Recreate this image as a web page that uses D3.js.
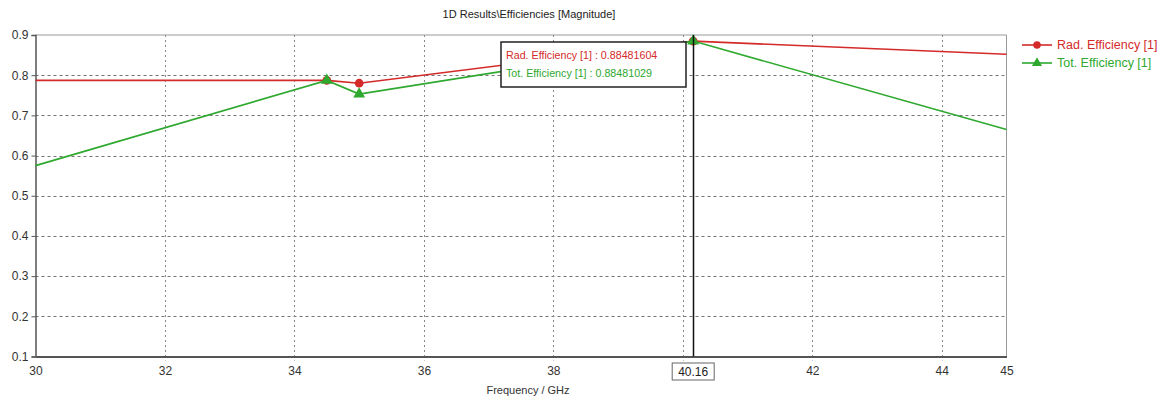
<!DOCTYPE html>
<html>
<head>
<meta charset="utf-8">
<script src="https://cdn.jsdelivr.net/npm/d3@7"></script>
<style>
  body { margin: 0; background: #fff; }
  svg text { font-family: Tahoma, "Liberation Sans", Arial, sans-serif; }
</style>
</head>
<body>
<div class="result"></div>
<script>
// Data
const freqs = [30, 34.5, 35, 40.16, 45];
const radEff = [0.787, 0.787, 0.780, 0.88481604, 0.852];
const totEff = [0.575, 0.787, 0.753, 0.88481029, 0.665];
const markerIdx = [1, 2, 3];            // points that carry a symbol
const xTicks = [30, 32, 34, 36, 38, 40, 42, 44, 45];
const yTicks = [0.1, 0.2, 0.3, 0.4, 0.5, 0.6, 0.7, 0.8, 0.9];
const cursorFreq = 40.16;
const seriesNames = ['Rad. Efficiency [1]', 'Tot. Efficiency [1]'];
const cursorValues = ['0.88481604', '0.88481029'];

// Size
const w = 1173;
const h = 400;
const plotLeft = 35.5, plotRight = 1006.5, plotTop = 35, plotBottom = 356.5;

const red = '#d42a2a';
const green = '#2ea82e';
const font = 'Tahoma, "Liberation Sans", Arial, sans-serif';

const svg = d3.select('.result')
  .append('svg')
  .attr('width', w)
  .attr('height', h);

// Scales
const xScale = d3.scaleLinear().domain([30, 45]).range([plotLeft, plotRight]);
const yScale = d3.scaleLinear().domain([0.1, 0.9]).range([plotBottom, plotTop]);

// Title
svg.append('text')
  .attr('x', 529)
  .attr('y', 18)
  .attr('text-anchor', 'middle')
  .attr('font-size', 11)
  .attr('fill', '#222')
  .text('1D Results\\Efficiencies [Magnitude]');

// Grid
svg.append('g')
  .selectAll('line')
  .data(yTicks.slice(1, -1))
  .enter()
  .append('line')
  .attr('x1', plotLeft).attr('x2', plotRight)
  .attr('y1', d => Math.round(yScale(d)) + 0.5)
  .attr('y2', d => Math.round(yScale(d)) + 0.5)
  .attr('stroke', '#777')
  .attr('stroke-dasharray', '3,3');

svg.append('g')
  .selectAll('line')
  .data(xTicks.slice(1, -1))
  .enter()
  .append('line')
  .attr('y1', plotTop).attr('y2', plotBottom + 4)
  .attr('x1', d => Math.round(xScale(d)) + 0.5)
  .attr('x2', d => Math.round(xScale(d)) + 0.5)
  .attr('stroke', '#888')
  .attr('stroke-dasharray', '2,3');

// Frame (top/right light)
svg.append('line')
  .attr('x1', plotLeft).attr('x2', plotRight).attr('y1', plotTop).attr('y2', plotTop)
  .attr('stroke', '#999');
svg.append('line')
  .attr('x1', plotRight).attr('x2', plotRight).attr('y1', plotTop).attr('y2', plotBottom)
  .attr('stroke', '#999');

// Axes
const xAxis = d3.axisBottom(xScale)
  .tickValues(xTicks)
  .tickSize(0)
  .tickPadding(10)
  .tickFormat(d => d === 40 ? '' : d);

const yAxis = d3.axisLeft(yScale)
  .tickValues(yTicks)
  .tickSize(4)
  .tickPadding(3)
  .tickFormat(d3.format('.1f'));

const gx = svg.append('g')
  .attr('transform', 'translate(0,' + plotBottom + ')')
  .call(xAxis);
gx.select('.domain').attr('stroke', '#555').attr('stroke-width', 2);
gx.selectAll('text').attr('font-size', 12).attr('fill', '#333')
  .attr('font-family', font);

const gy = svg.append('g')
  .attr('transform', 'translate(' + plotLeft + ',0)')
  .call(yAxis);
gy.select('.domain').attr('stroke', '#555').attr('stroke-width', 1.5);
gy.selectAll('line').attr('stroke', '#555');
gy.selectAll('text').attr('font-size', 12).attr('fill', '#333')
  .attr('font-family', font);

// Axis label
svg.append('text')
  .attr('x', 528)
  .attr('y', 394)
  .attr('text-anchor', 'middle')
  .attr('font-size', 11)
  .attr('fill', '#333')
  .text('Frequency / GHz');

// Lines
const line = d3.line()
  .x(d => xScale(d[0]))
  .y(d => yScale(d[1]));

const series = [
  { name: seriesNames[0], color: red, values: radEff, symbol: d3.symbolCircle },
  { name: seriesNames[1], color: green, values: totEff, symbol: d3.symbolTriangle }
];

series.forEach(s => {
  const pts = freqs.map((f, i) => [f, s.values[i]]);
  svg.append('path')
    .datum(pts)
    .attr('fill', 'none')
    .attr('stroke', s.color)
    .attr('stroke-width', 1.6)
    .attr('d', line);
  svg.selectAll(null)
    .data(markerIdx.map(i => pts[i]))
    .enter()
    .append('path')
    .attr('d', d3.symbol().type(s.symbol).size(60))
    .attr('transform', d => 'translate(' + xScale(d[0]) + ',' + yScale(d[1]) + ')')
    .attr('fill', s.color);
});

// Cursor line
svg.append('line')
  .attr('x1', Math.round(xScale(cursorFreq)) + 0.5)
  .attr('x2', Math.round(xScale(cursorFreq)) + 0.5)
  .attr('y1', plotTop).attr('y2', plotBottom)
  .attr('stroke', '#111')
  .attr('stroke-width', 1.5);

// Cursor value label
const cx = xScale(cursorFreq);
svg.append('rect')
  .attr('x', cx - 21).attr('y', 363)
  .attr('width', 42).attr('height', 17)
  .attr('fill', '#fff')
  .attr('stroke', '#666');
svg.append('text')
  .attr('x', cx)
  .attr('y', 376)
  .attr('text-anchor', 'middle')
  .attr('font-size', 12)
  .attr('fill', '#222')
  .text(cursorFreq.toFixed(2));

// Cursor info box
const bx = 501, by = 42;
svg.append('rect')
  .attr('x', bx).attr('y', by)
  .attr('width', 185).attr('height', 45)
  .attr('fill', '#fff')
  .attr('stroke', '#222')
  .attr('stroke-width', 1.5);
series.forEach((s, i) => {
  svg.append('text')
    .attr('x', bx + 5)
    .attr('y', by + 17 + i * 18)
    .attr('font-size', 10.7)
    .attr('fill', s.color)
    .text(s.name + ' : ' + cursorValues[i]);
});

// Legend
const lg = svg.append('g').attr('transform', 'translate(1022,45)');
series.forEach((s, i) => {
  const g = lg.append('g').attr('transform', 'translate(0,' + i * 18 + ')');
  g.append('line')
    .attr('x1', 0).attr('x2', 30)
    .attr('y1', 0).attr('y2', 0)
    .attr('stroke', s.color)
    .attr('stroke-width', 1.6);
  g.append('path')
    .attr('d', d3.symbol().type(s.symbol).size(44))
    .attr('transform', 'translate(15,0)')
    .attr('fill', s.color);
  g.append('text')
    .attr('x', 35)
    .attr('y', 4)
    .attr('font-size', 12.5)
    .attr('fill', s.color)
    .text(s.name);
});
</script>
</body>
</html>
